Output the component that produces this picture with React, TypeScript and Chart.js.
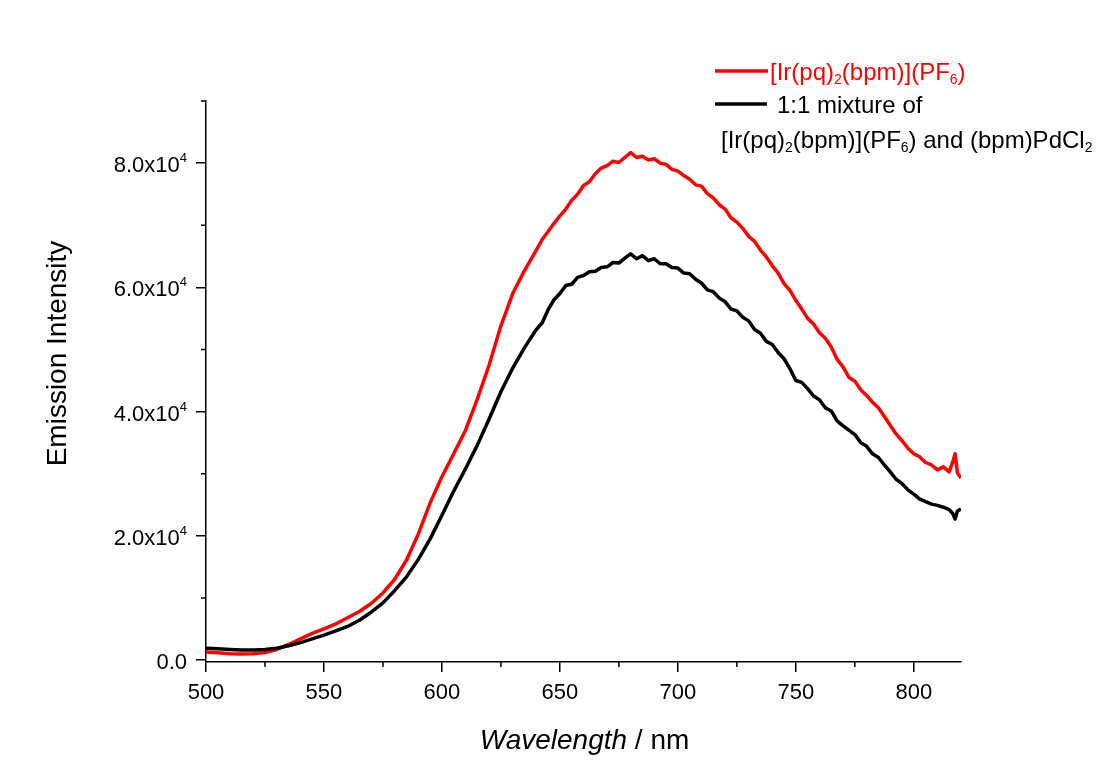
import React, { useEffect, useRef } from 'react';
import { Chart, registerables } from 'chart.js';

Chart.register(...registerables);

const wavelengths = [
  500, 505, 510, 515, 520, 525, 530, 535, 540, 545, 550, 555, 560, 565, 570, 575,
  580, 585, 590, 595, 600, 605, 610, 615, 620, 625, 630, 635,
  640, 642.5, 645, 647.5, 650, 652.5, 655, 657.5,
  660, 662.5, 665, 667.5, 670, 672.5, 675, 677.5,
  680, 682.5, 685, 687.5, 690, 692.5, 695, 697.5,
  700, 702.5, 705, 707.5, 710, 712.5, 715, 717.5,
  720, 722.5, 725, 727.5, 730, 732.5, 735, 737.5,
  740, 742.5, 745, 747.5, 750, 752.5, 755, 757.5,
  760, 762.5, 765, 767.5, 770, 772.5, 775, 777.5,
  780, 782.5, 785, 787.5, 790, 792.5, 795, 797.5,
  800, 802.5, 805, 807.5, 810, 812.5, 815,
  816.5, 817.5, 818.5, 820,
];

const irOnly = [
  1300, 1150, 1000, 950, 1000, 1200, 1700, 2500, 3400, 4300, 5000, 5800, 6800, 7800, 9100, 10800,
  13000, 16100, 20300, 25300, 29500, 33200, 37000, 42000, 47500, 53800, 59000, 62700,
  66000, 67700, 69000, 70300, 71500, 72600, 74000, 75000,
  76400, 77000, 78300, 79200, 79600, 80300, 80100, 80900,
  81700, 80900, 81100, 80500, 80700, 80000, 79800, 79000,
  78700, 78000, 77400, 76500, 76300, 75100, 74400, 73300,
  72600, 71200, 70500, 69500, 68200, 67400, 66000, 64900,
  63500, 62300, 60600, 59500, 57900, 56500, 55000, 54100,
  52700, 51800, 50400, 48400, 47200, 45500, 44900, 43500,
  42600, 41500, 40600, 39200, 37800, 36400, 35300, 34100,
  33200, 32700, 31800, 31400, 30600, 31100, 30300,
  31900, 33200, 30100, 29300,
];

const mixture = [
  1900, 1800, 1700, 1600, 1600, 1700, 1900, 2300, 2800, 3400, 4000, 4700, 5400, 6400, 7700, 9200,
  11200, 13400, 16200, 19500, 23300, 27200, 30800, 34600, 38800, 43200, 47000, 50300,
  53200, 54300, 56400, 58000, 59000, 60300, 60500, 61600,
  61900, 62500, 62600, 63200, 63300, 64000, 63900, 64700,
  65400, 64600, 65100, 64300, 64600, 63800, 63800, 63200,
  63100, 62300, 62200, 61300, 60700, 59600, 59300, 58300,
  57700, 56500, 56200, 55200, 54600, 53200, 52600, 51300,
  50800, 49500, 48500, 46900, 45000, 44700, 43700, 42500,
  41900, 40600, 40100, 38500, 37700, 37000, 36300, 35000,
  34400, 33200, 32600, 31400, 30300, 29100, 28400, 27400,
  26700, 25900, 25500, 25100, 24900, 24600, 24200,
  23600, 22700, 24000, 24300,
];

const xTickValues = [500, 550, 600, 650, 700, 750, 800];
const xTickLabels = ['500', '550', '600', '650', '700', '750', '800'];
const xMinorTicks = [525, 575, 625, 675, 725, 775];
const yTickValues = [0, 20000, 40000, 60000, 80000];
const yTickMantissa = ['0.0', '2.0x10', '4.0x10', '6.0x10', '8.0x10'];
const yTickExponent = ['', '4', '4', '4', '4'];
const yMinorTicks = [10000, 30000, 50000, 70000, 90000];

const FONT = '"Liberation Sans", Arial, sans-serif';

type Seg = { t: string; sub?: boolean };

const legendRed: Seg[] = [
  { t: '[Ir(pq)' }, { t: '2', sub: true }, { t: '(bpm)](PF' }, { t: '6', sub: true }, { t: ')' },
];
const legendBlack1: Seg[] = [{ t: '1:1 mixture of' }];
const legendBlack2: Seg[] = [
  { t: '[Ir(pq)' }, { t: '2', sub: true }, { t: '(bpm)](PF' }, { t: '6', sub: true },
  { t: ') and (bpm)PdCl' }, { t: '2', sub: true },
];

function drawRich(ctx: CanvasRenderingContext2D, segs: Seg[], x: number, y: number, color: string) {
  ctx.fillStyle = color;
  ctx.textAlign = 'left';
  ctx.textBaseline = 'alphabetic';
  let cx = x;
  for (const s of segs) {
    if (s.sub) {
      ctx.font = `14px ${FONT}`;
      ctx.fillText(s.t, cx, y + 4);
    } else {
      ctx.font = `24px ${FONT}`;
      ctx.fillText(s.t, cx, y);
    }
    cx += ctx.measureText(s.t).width;
  }
}

const decorPlugin = {
  id: 'decor',
  afterDraw(chart: any) {
    const ctx: CanvasRenderingContext2D = chart.ctx;
    const xs = chart.scales.x;
    const ys = chart.scales.y;
    const area = chart.chartArea;
    ctx.save();

    // minor ticks
    ctx.strokeStyle = '#000';
    ctx.lineWidth = 1.5;
    ctx.beginPath();
    for (const v of xMinorTicks) {
      const px = xs.getPixelForValue(v);
      ctx.moveTo(px, area.bottom);
      ctx.lineTo(px, area.bottom + 5);
    }
    for (const v of yMinorTicks) {
      const py = ys.getPixelForValue(v);
      ctx.moveTo(area.left, py);
      ctx.lineTo(area.left - 5, py);
    }
    ctx.stroke();

    // x tick labels
    ctx.fillStyle = '#000';
    ctx.font = `22px ${FONT}`;
    ctx.textAlign = 'center';
    ctx.textBaseline = 'alphabetic';
    xTickValues.forEach((v, i) => {
      ctx.fillText(xTickLabels[i], xs.getPixelForValue(v), area.bottom + 37);
    });

    // y tick labels
    const rightEdge = area.left - 19;
    yTickValues.forEach((v, i) => {
      const py = ys.getPixelForValue(v);
      let ew = 0;
      if (yTickExponent[i]) {
        ctx.font = `13px ${FONT}`;
        ew = ctx.measureText(yTickExponent[i]).width;
        ctx.textAlign = 'left';
        ctx.fillText(yTickExponent[i], rightEdge - ew, py - 1);
      }
      ctx.font = `22px ${FONT}`;
      ctx.textAlign = 'right';
      ctx.fillText(yTickMantissa[i], rightEdge - ew, py + 9);
    });

    // y title
    ctx.save();
    ctx.translate(66, (area.top + area.bottom) / 2 - 28);
    ctx.rotate(-Math.PI / 2);
    ctx.font = `28px ${FONT}`;
    ctx.textAlign = 'center';
    ctx.fillText('Emission Intensity', 0, 0);
    ctx.restore();

    // x title
    ctx.textAlign = 'left';
    ctx.font = `italic 28px ${FONT}`;
    const w1 = ctx.measureText('Wavelength').width;
    ctx.font = `28px ${FONT}`;
    const w2 = ctx.measureText(' / nm').width;
    const cxTitle = (area.left + area.right) / 2 + 1;
    const startX = cxTitle - (w1 + w2) / 2;
    ctx.font = `italic 28px ${FONT}`;
    ctx.fillText('Wavelength', startX, 749);
    ctx.font = `28px ${FONT}`;
    ctx.fillText(' / nm', startX + w1, 749);

    // legend
    ctx.lineWidth = 3.5;
    ctx.strokeStyle = '#ff0000';
    ctx.beginPath();
    ctx.moveTo(715, 71);
    ctx.lineTo(768, 71);
    ctx.stroke();
    drawRich(ctx, legendRed, 770, 80, '#ff0000');

    ctx.strokeStyle = '#000';
    ctx.beginPath();
    ctx.moveTo(715, 104);
    ctx.lineTo(767, 104);
    ctx.stroke();
    drawRich(ctx, legendBlack1, 777, 113, '#000');
    drawRich(ctx, legendBlack2, 721, 148, '#000');

    ctx.restore();
  },
};

export default function App() {
  const canvasRef = useRef<HTMLCanvasElement | null>(null);

  useEffect(() => {
    if (!canvasRef.current) return;
    const chart = new Chart(canvasRef.current, {
      type: 'line',
      data: {
        datasets: [
          {
            label: '1:1 mixture',
            data: wavelengths.map((x, i) => ({ x, y: mixture[i] })),
            borderColor: '#000000',
            borderWidth: 3.5,
            borderJoinStyle: 'round',
            pointRadius: 0,
            tension: 0,
          },
          {
            label: '[Ir(pq)2(bpm)](PF6)',
            data: wavelengths.map((x, i) => ({ x, y: irOnly[i] })),
            borderColor: '#ff0000',
            borderWidth: 3.5,
            borderJoinStyle: 'round',
            pointRadius: 0,
            tension: 0,
          },
        ],
      },
      options: {
        responsive: false,
        animation: false,
        events: [],
        layout: { padding: { top: 101, right: 141, left: 0, bottom: 0 } },
        plugins: { legend: { display: false }, tooltip: { enabled: false } },
        scales: {
          x: {
            type: 'linear',
            min: 500,
            max: 820,
            afterBuildTicks: (s: any) => {
              s.ticks = xTickValues.map((v) => ({ value: v }));
            },
            afterFit: (s: any) => {
              s.height = 120;
            },
            ticks: { display: false },
            grid: {
              display: true,
              drawOnChartArea: false,
              drawTicks: true,
              tickLength: 10,
              color: '#000',
              lineWidth: 1.5,
            },
            border: { display: true, color: '#000', width: 1.5 },
          },
          y: {
            type: 'linear',
            min: -320,
            max: 90000,
            afterBuildTicks: (s: any) => {
              s.ticks = yTickValues.map((v) => ({ value: v }));
            },
            afterFit: (s: any) => {
              s.width = 206;
            },
            ticks: { display: false },
            grid: {
              display: true,
              drawOnChartArea: false,
              drawTicks: true,
              tickLength: 10,
              color: '#000',
              lineWidth: 1.5,
            },
            border: { display: true, color: '#000', width: 1.5 },
          },
        },
      },
      plugins: [decorPlugin],
    });
    return () => chart.destroy();
  }, []);

  return (
    <div style={{ position: 'absolute', left: 0, top: 0, width: 1102, height: 782, background: '#fff' }}>
      <canvas ref={canvasRef} width={1102} height={782} />
    </div>
  );
}
